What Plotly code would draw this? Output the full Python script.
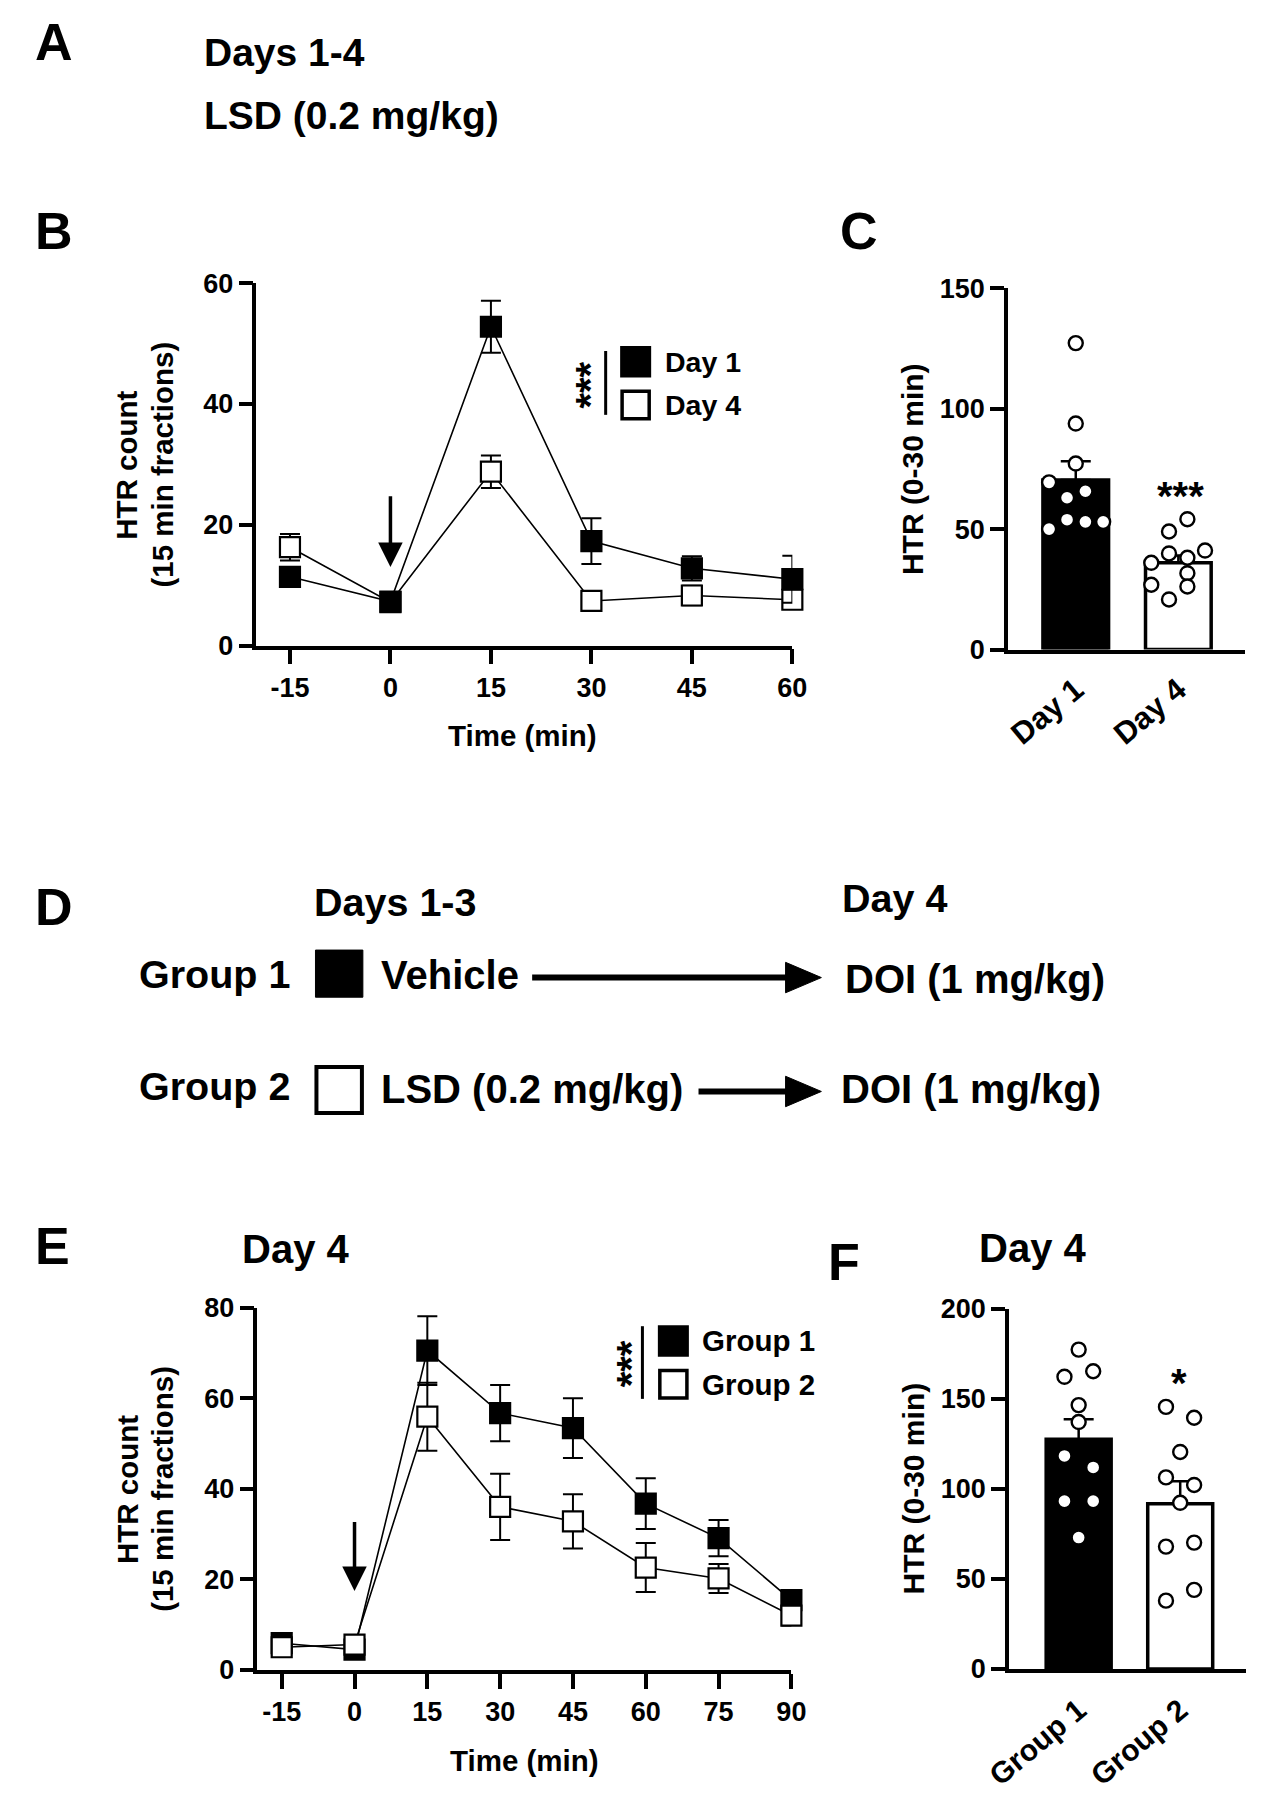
import plotly.graph_objects as go

# Page is 1269x1800; the browser body keeps its default 8px margin, so the
# figure is 1253x1784 placed at (8, 8). All positions below are page pixels.
OFF = 8
W, H = 1269 - 2 * OFF, 1800 - 2 * OFF
FONT = "Liberation Sans, Arial, Helvetica, sans-serif"

# ---------------- DATA ----------------
time_B = [-15, 0, 15, 30, 45, 60]
day1_mean = [11.4, 7.3, 52.8, 17.3, 12.8, 11.0]
day1_sem = [1.2, 0.8, 4.3, 3.8, 2.0, 3.9]
day4_mean = [16.3, 7.2, 28.8, 7.4, 8.3, 7.6]
day4_sem = [2.2, 0.8, 2.7, 0.6, 1.6, 1.5]
ticks_B_x = [-15, 0, 15, 30, 45, 60]
ticks_B_y = [0, 20, 40, 60]

cats_C = ["Day 1", "Day 4"]
means_C = [70.4, 36.0]
sems_C = [7.8, 3.0]
pts_C_day1 = [127.2, 93.8, 77.2, 69.4, 65.7, 63.0, 53.9, 53.0, 53.0, 50.0]
pts_C_day4 = [54.1, 49.0, 41.1, 39.9, 38.1, 36.0, 31.7, 26.9, 26.2, 20.8]
ticks_C_y = [0, 50, 100, 150]

time_E = [-15, 0, 15, 30, 45, 60, 75, 90]
g1_mean = [5.9, 4.5, 70.5, 56.7, 53.4, 36.7, 29.1, 15.4]
g1_sem = [1.0, 0.8, 7.6, 6.2, 6.6, 5.6, 4.0, 1.5]
g2_mean = [5.0, 5.6, 55.9, 36.0, 32.8, 22.6, 20.2, 12.0]
g2_sem = [1.0, 1.0, 7.5, 7.3, 6.0, 5.4, 3.2, 2.2]
ticks_E_x = [-15, 0, 15, 30, 45, 60, 75, 90]
ticks_E_y = [0, 20, 40, 60, 80]

cats_F = ["Group 1", "Group 2"]
means_F = [127.5, 91.6]
sems_F = [11.1, 12.5]
pts_F_g1 = [177.2, 162.1, 165.2, 146.4, 137.0, 118.2, 111.8, 93.1, 93.1, 72.9]
pts_F_g2 = [145.4, 139.4, 120.4, 106.3, 102.1, 92.2, 67.9, 70.1, 43.9, 37.9]
ticks_F_y = [0, 50, 100, 150, 200]

# ---------------- LAYOUT HELPERS ----------------
jit_C_day1 = [0, 0, 0, -0.26, 0.094, -0.085, -0.085, 0.094, 0.267, -0.26]
jit_C_day4 = [0.088, -0.091, 0.26, -0.091, 0.088, -0.264, 0.088, -0.264, 0.088, -0.091]
jit_F_g1 = [0, -0.14, 0.143, 0, 0, -0.14, 0.143, -0.14, 0.143, 0]
jit_F_g2 = [-0.14, 0.137, 0, -0.14, 0.137, 0, -0.14, 0.137, 0.137, -0.14]

arrow_B = (25.0, 13.0)
arrow_E = (33.0, 17.4)


def px(x):
    return min(max((x - OFF) / W, 0.0), 1.0)


def py(y):
    return min(max(1 - (y - OFF) / H, 0.0), 1.0)


def dom_x(a, b):
    return [px(a), px(b)]


def dom_y(top, bottom):
    return [py(bottom), py(top)]


def tfont(size):
    return dict(family=FONT, size=size, color="black", weight="bold")


def hyph(vals):
    return [str(v) for v in vals]


fig = go.Figure()

for name, m, s, fill in [("Day 4", day4_mean, day4_sem, "white"),
                         ("Day 1", day1_mean, day1_sem, "black")]:
    fig.add_trace(go.Scatter(
        x=time_B, y=m, mode="lines+markers", name=name, showlegend=False,
        xaxis="x", yaxis="y", cliponaxis=False,
        line=dict(color="black", width=1.6),
        marker=dict(symbol="square", size=20, color=fill, line=dict(color="black", width=2.2)),
        error_y=dict(type="data", array=s, color="black", thickness=2, width=10),
    ))

for name, m, s, fill in [("Group 1", g1_mean, g1_sem, "black"),
                         ("Group 2", g2_mean, g2_sem, "white")]:
    fig.add_trace(go.Scatter(
        x=time_E, y=m, mode="lines+markers", name=name, showlegend=False,
        xaxis="x3", yaxis="y3", cliponaxis=False,
        line=dict(color="black", width=1.6),
        marker=dict(symbol="square", size=20, color=fill, line=dict(color="black", width=2.2)),
        error_y=dict(type="data", array=s, color="black", thickness=2, width=10),
    ))


def bar_panel(cats, means, sems, pts_list, jit_list, xa, ya):
    idx = list(range(len(cats)))
    fig.add_trace(go.Bar(
        x=idx, y=means, width=0.64, xaxis=xa, yaxis=ya, showlegend=False,
        marker=dict(color=["black", "white"], line=dict(color="black", width=3.5)),
        error_y=dict(type="data", array=sems, arrayminus=[0] * len(sems), symmetric=False,
                     color="black", thickness=2.5, width=15),
    ))
    for i, (pts, jit) in enumerate(zip(pts_list, jit_list)):
        fig.add_trace(go.Scatter(
            x=[i + j for j in jit], y=pts, mode="markers", xaxis=xa, yaxis=ya,
            showlegend=False, cliponaxis=False,
            marker=dict(symbol="circle", size=14, color="white", line=dict(color="black", width=2.4)),
        ))


bar_panel(cats_C, means_C, sems_C, [pts_C_day1, pts_C_day4], [jit_C_day1, jit_C_day4], "x2", "y2")
bar_panel(cats_F, means_F, sems_F, [pts_F_g1, pts_F_g2], [jit_F_g1, jit_F_g2], "x4", "y4")

base = dict(showline=True, linewidth=3.5, linecolor="black", ticks="outside", tickwidth=3.5,
            tickcolor="black", showgrid=False, zeroline=False, tickfont=tfont(27), fixedrange=True)

fig.update_layout(
    xaxis=dict(base, domain=dom_x(238, 792), range=[-20, 60], tickvals=ticks_B_x,
               ticktext=hyph(ticks_B_x), ticklen=15, anchor="y"),
    yaxis=dict(base, domain=dom_y(273, 642), range=[0, 60], tickvals=ticks_B_y, ticklen=14,
               anchor="x"),
    xaxis2=dict(base, domain=dom_x(1015, 1260), range=[-0.66, 1.65], tickvals=[0, 1],
                ticktext=cats_C, ticks="", tickangle=-40, tickfont=tfont(31),
                ticklabelstandoff=6, anchor="y2"),
    yaxis2=dict(base, domain=dom_y(278, 646), range=[0, 150], tickvals=ticks_C_y, ticklen=14,
                anchor="x2"),
    xaxis3=dict(base, domain=dom_x(239, 791), range=[-20, 90], tickvals=ticks_E_x,
                ticktext=hyph(ticks_E_x), ticklen=15, anchor="y3"),
    yaxis3=dict(base, domain=dom_y(1316, 1685), range=[0, 80], tickvals=ticks_E_y, ticklen=14,
                anchor="x3"),
    xaxis4=dict(base, domain=dom_x(1016, 1261), range=[-0.686, 1.648], tickvals=[0, 1],
                ticktext=cats_F, ticks="", tickangle=-40, tickfont=tfont(30),
                ticklabelstandoff=8, anchor="y4"),
    yaxis4=dict(base, domain=dom_y(1317, 1684), range=[0, 200], tickvals=ticks_F_y, ticklen=14,
                anchor="x4"),
)


def txt(s, x, y, size, anchor="left", angle=0):
    fig.add_annotation(text=s, x=px(x), y=py(y), xref="paper", yref="paper",
                       xanchor=anchor, yanchor="middle", showarrow=False, borderpad=0,
                       font=tfont(size), textangle=angle)


txt("A", 8, 27, 52)
txt("B", 8, 220, 52)
txt("C", 840, 220, 52)
txt("D", 8, 908, 52)
txt("E", 8, 1253, 52)
txt("F", 828, 1270, 52)

txt("Days 1-4", 183, 38, 39)
txt("LSD (0.2 mg/kg)", 183, 102, 39)

txt("HTR count", 104, 458, 29.5, "center", -90)
txt("(15 min fractions)", 141, 458, 29.5, "center", -90)
txt("Time (min)", 513, 734, 29.5, "center")

txt("HTR (0-30 min)", 917, 462, 30, "center", -90)
txt("***", 1193, 490, 40, "center")

txt("Day 4", 222, 1256, 40)
txt("HTR count", 104, 1501, 29.5, "center", -90)
txt("(15 min fractions)", 141, 1501, 29.5, "center", -90)
txt("Time (min)", 515, 1777, 29.5, "center")

txt("Day 4", 1040, 1255, 40, "center")
txt("HTR (0-30 min)", 917, 1500, 30, "center", -90)
txt("*", 1192, 1393, 40, "center")

shapes = []


def legend(x_sq, y1, y2, labels, size, line_x, line_y, star_xy):
    shapes.append(dict(type="rect", xref="paper", yref="paper", x0=px(x_sq - 15), x1=px(x_sq + 15),
                       y0=py(y1 + 15), y1=py(y1 - 15), fillcolor="black", line=dict(color="black", width=2)))
    shapes.append(dict(type="rect", xref="paper", yref="paper", x0=px(x_sq - 14), x1=px(x_sq + 14),
                       y0=py(y2 + 14), y1=py(y2 - 14), fillcolor="white", line=dict(color="black", width=3.5)))
    shapes.append(dict(type="line", xref="paper", yref="paper", x0=px(line_x), x1=px(line_x),
                       y0=py(line_y[0]), y1=py(line_y[1]), line=dict(color="black", width=3)))
    txt(labels[0], x_sq + 29, y1, size)
    txt(labels[1], x_sq + 29, y2, size)
    txt("***", star_xy[0], star_xy[1], 40, "center", -90)


legend(630, 353, 397, ["Day 1", "Day 4"], 28.5, 599, (342, 407), (583, 377))
legend(669, 1350, 1394, ["Group 1", "Group 2"], 29.5, 637, (1335, 1409), (625, 1373))

for xa, ya, (y0, y1) in [("x", "y", arrow_B), ("x3", "y3", arrow_E)]:
    fig.add_annotation(x=0, y=y1, ax=0, ay=y0, xref=xa, yref=ya, axref=xa, ayref=ya,
                       text="", showarrow=True, arrowhead=2, arrowsize=1.4, arrowwidth=3.5,
                       arrowcolor="black", standoff=0)

txt("Days 1-3", 296, 903, 39.5)
txt("Day 4", 842, 899, 39.5)
txt("Group 1", 116, 976, 39.5)
txt("Vehicle", 366, 977, 40)
txt("DOI (1 mg/kg)", 845, 981, 40)
txt("Group 2", 116, 1090, 39.5)
txt("LSD (0.2 mg/kg)", 366, 1093, 40)
txt("DOI (1 mg/kg)", 841, 1093, 40)

shapes.append(dict(type="rect", xref="paper", yref="paper", x0=px(299), x1=px(348),
                   y0=py(1000), y1=py(952), fillcolor="black", line=dict(color="black", width=1)))
shapes.append(dict(type="rect", xref="paper", yref="paper", x0=px(300), x1=px(347),
                   y0=py(1118), y1=py(1071), fillcolor="white", line=dict(color="black", width=4)))


def d_arrow(xa, xb, y):
    shapes.append(dict(type="line", xref="paper", yref="paper", x0=px(xa), x1=px(xb - 30),
                       y0=py(y), y1=py(y), line=dict(color="black", width=6)))
    path = "M {} {} L {} {} L {} {} Z".format(px(xb - 37), py(y - 15.5), px(xb), py(y),
                                              px(xb - 37), py(y + 15.5))
    shapes.append(dict(type="path", xref="paper", yref="paper", path=path,
                       fillcolor="black", line=dict(color="black", width=1)))


d_arrow(523, 822, 980)
d_arrow(695, 822, 1096)

fig.update_layout(
    width=W, height=H, autosize=False,
    margin=dict(l=0, r=0, t=0, b=0),
    paper_bgcolor="white", plot_bgcolor="white",
    shapes=shapes, showlegend=False,
    font=dict(family=FONT, color="black"),
)

fig.write_html("out.html", config={"displayModeBar": False, "responsive": False})
